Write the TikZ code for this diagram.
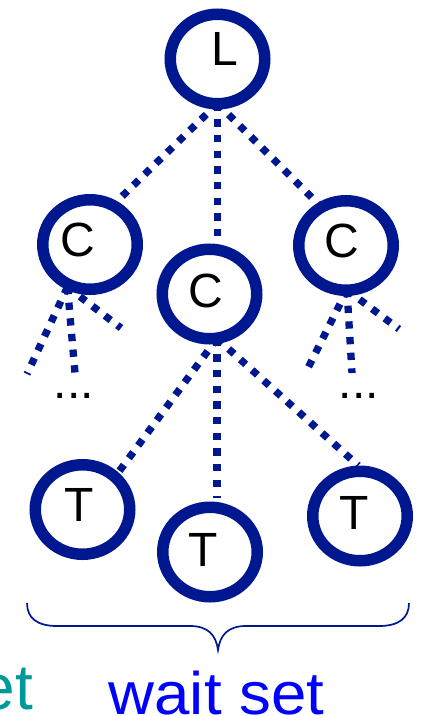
\documentclass[tikz,border=0pt]{standalone}
\usepackage{fontspec}
\setmainfont{Liberation Sans}
\usetikzlibrary{shapes.geometric,backgrounds}
\definecolor{ringblue}{RGB}{0,24,143}
\definecolor{waitblue}{RGB}{0,0,255}
\definecolor{entryteal}{RGB}{0,153,153}
\begin{document}
\begin{tikzpicture}[x=1pt,y=-1pt,
  ring/.style={ellipse,draw=ringblue,fill=white,line width=11.5pt,
    minimum width=94.5pt,minimum height=89.5pt,inner sep=0pt},
  letter/.style={anchor=base,inner sep=0pt,font=\fontsize{48}{48}\selectfont},
  link/.style={draw=ringblue,line width=7.3pt,dash pattern=on 7.3pt off 8.4pt},
  bracestroke/.style={draw=ringblue,line width=1.7pt}]
\useasboundingbox (0,0) rectangle (421,716);

% lock, condition and thread nodes
\node[ring] (L)  at (217.5,59)  {};
\node[ring] (Cl) at (90,244.5)  {};
\node[ring] (Cm) at (209.5,294) {};
\node[ring] (Cr) at (346,245.5) {};
\node[ring] (Tl) at (82.5,509.5) {};
\node[ring] (Tm) at (210,552)   {};
\node[ring] (Tr) at (360,516)   {};

% letters inside the rings
\node[letter] (Ltxt)  at (225,65)    {L};
\node[letter] (Cltxt) at (77.5,256)  {C};
\node[letter] (Cmtxt) at (206,307)   {C};
\node[letter] (Crtxt) at (341.5,257) {C};
\node[letter] (Tltxt) at (79.5,521)  {T};
\node[letter] (Tmtxt) at (203.5,566) {T};
\node[letter] (Trtxt) at (354,529)   {T};

% hubs where the dotted links leave a ring
\coordinate (Lhub)  at ([yshift=6pt]L.south);
\coordinate (Cmhub) at ([xshift=7.5pt,yshift=6pt]Cm.south);
\coordinate (Clhub) at (67.5,287);
\coordinate (Crhub) at ([xshift=1pt,yshift=6pt]Cr.south);

% open ends of the links below the side conditions
\coordinate (Cla) at (27,374);
\coordinate (Clb) at (75,373);
\coordinate (Clc) at (121,328);
\coordinate (Cra) at (305,374);
\coordinate (Crb) at (352,373);
\coordinate (Crc) at (399,329);

\begin{scope}[on background layer]
  \draw[link,shorten >=-5pt] (Lhub) -- (Cl.58);
  \draw[link] (Lhub) -- (Lhub |- Cm.north);
  \draw[link,shorten >=-5pt] (Lhub) -- (Cr.124);

  \draw[link,shorten >=-5pt] (Cmhub) -- (Tl.46);
  \draw[link,shorten >=4pt] (Cmhub) -- (Cmhub |- Tm.north);
  \draw[link] (Cmhub) -- (Tr.92);

  \draw[link] (Clhub) -- (Cla);
  \draw[link] (Clhub) -- (Clb);
  \draw[link] (Clhub) -- (Clc);
  \draw[link] (Crhub) -- (Cra);
  \draw[link] (Crhub) -- (Crb);
  \draw[link] (Crhub) -- (Crc);
\end{scope}

\node[letter] (dotsl) at (74,398)  {...};
\node[letter] (dotsr) at (359,398) {...};

% brace under the threads
\draw[bracestroke] (27,603) .. controls (27,618) and (37,626) .. (57,626)
  -- (190,626) .. controls (208,626) and (216,635) .. (218,650)
  .. controls (220,635) and (228,626) .. (246,626)
  -- (379,626) .. controls (399,626) and (409,618) .. (409,603);

\node[anchor=base west,inner sep=0pt,text=waitblue,
  font=\fontsize{60}{60}\selectfont] (wait) at (108.5,714) {\scalebox{1.06}[1]{wait set}};
\node[anchor=base east,inner sep=0pt,text=entryteal,
  font=\fontsize{64}{64}\selectfont] (entry) at (33,709) {et};
\end{tikzpicture}
\end{document}
